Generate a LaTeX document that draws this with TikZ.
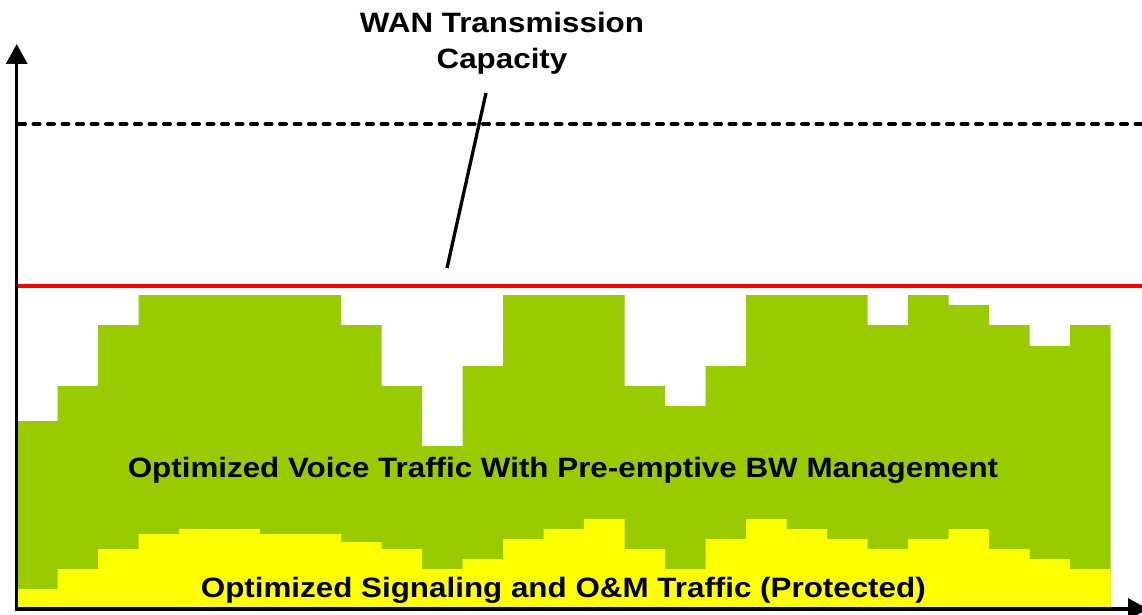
\documentclass[tikz,border=0pt]{standalone}
\usepackage{fontspec}
\setmainfont{Liberation Sans}
\usepackage{graphicx}
\usetikzlibrary{arrows.meta}
\definecolor{voicegreen}{HTML}{99CC00}
\definecolor{sigyellow}{HTML}{FFFF00}
\definecolor{capred}{HTML}{FF0000}
\tikzset{
  axisline/.style={line width=3.4pt, black, -{Triangle[length=20pt,width=21pt]}},
  lbl/.style={font=\fontsize{28}{34}\selectfont\bfseries, inner sep=0pt, anchor=base},
  capline/.style={line width=4pt, capred},
  dashline/.style={line width=4pt, black, dash pattern=on 6pt off 8.5pt, line cap=round},
  leader/.style={line width=3.3pt, black},
}
\newcommand{\widetext}[1]{\scalebox{1.12}[1]{#1}}
\begin{document}
\begin{tikzpicture}[x=1pt,y=-1pt]
\useasboundingbox (0,0) rectangle (1142,615);
\fill[white] (0,0) rectangle (1142,615);
% voice traffic (green)
\fill[voicegreen] (17,609)
  \foreach \g [count=\k from 0] in {421,386,325,295,295,295,295,295,325,386,446,366,295,295,295,386,406,366,295,295,295,325,295,305,325,346,325}
  { -- ({17+40.5*\k},\g) -- ({57.5+40.5*\k},\g) } -- (1110.5,609) -- cycle;
% signaling traffic (yellow)
\fill[sigyellow] (17,609)
  \foreach \g [count=\k from 0] in {589,569,549,534,529,529,534,534,542,549,569,559,539,529,519,549,569,539,519,529,539,549,539,529,549,559,569}
  { -- ({17+40.5*\k},\g) -- ({57.5+40.5*\k},\g) } -- (1110.5,609) -- cycle;
% capacity lines
\coordinate (redL) at (17,285.7);
\coordinate (redR) at (1142,285.7);
\draw[capline] (redL) -- (redR);
\coordinate (dashL) at (19,124);
\coordinate (dashR) at (1145,124);
\draw[dashline] (dashL) -- (dashR);
% leader line
\coordinate (ltop) at (486,93);
\coordinate (lbot) at (447,268);
\draw[leader] (ltop) -- (lbot);
% axes
\coordinate (ybase) at (16.7,610.8);
\coordinate (ytip) at (16.7,44);
\coordinate (xbase) at (15,609);
\coordinate (xtip) at (1148,609);
\draw[axisline] (ybase) -- (ytip);
\draw[axisline] (xbase) -- (xtip);
% labels
\node[lbl] (title1) at (502,32.7) {\widetext{WAN Transmission}};
\node[lbl] (title2) at (502,69) {\widetext{Capacity}};
\node[lbl] (voice) at (563,477) {\widetext{Optimized Voice Traffic With Pre-emptive BW Management}};
\node[lbl] (sig) at (563.3,597) {\widetext{Optimized Signaling and O\&M Traffic (Protected)}};
\end{tikzpicture}
\end{document}
